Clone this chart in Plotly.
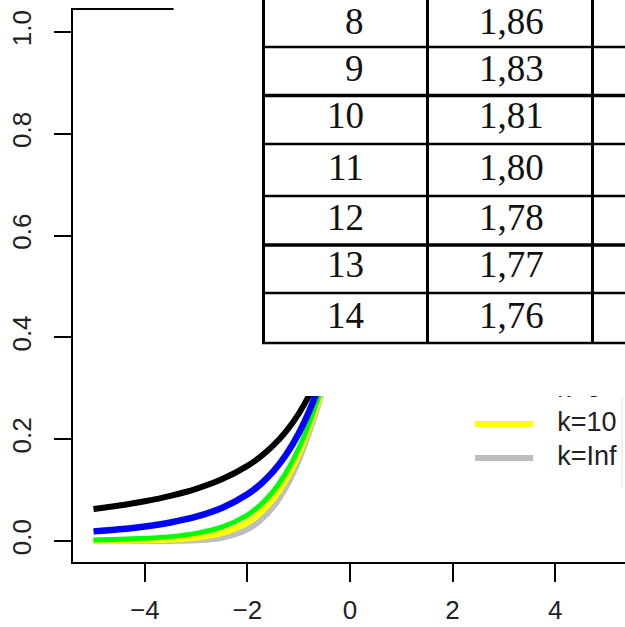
import plotly.graph_objects as go

# ---------------- data ----------------
x_vals = [-5, -4.5, -4, -3.5, -3, -2.5, -2, -1.75, -1.5, -1.25, -1, -0.75, -0.5, 0, 1, 2, 3, 4, 5]
cdf_k1 = [0.0628, 0.0696, 0.0780, 0.0886, 0.1024, 0.1211, 0.1476, 0.1652, 0.1872, 0.2148, 0.2500,
          0.2952, 0.3524, 0.5, 0.75, 0.8524, 0.8976, 0.9220, 0.9372]
cdf_k2 = [0.0189, 0.0230, 0.0286, 0.0364, 0.0477, 0.0648, 0.0918, 0.1111, 0.1362, 0.1689, 0.2113,
          0.2657, 0.3333, 0.5, 0.7887, 0.9082, 0.9523, 0.9714, 0.9811]
cdf_k5 = [0.0021, 0.0032, 0.0052, 0.0086, 0.0150, 0.0272, 0.0510, 0.0703, 0.0970, 0.1334, 0.1816,
          0.2435, 0.3191, 0.5, 0.8184, 0.9490, 0.9850, 0.9948, 0.9979]
cdf_k10 = [0.0003, 0.0006, 0.0013, 0.0029, 0.0067, 0.0157, 0.0367, 0.0554, 0.0823, 0.1199, 0.1704,
           0.2352, 0.3139, 0.5, 0.8296, 0.9633, 0.9933, 0.9987, 0.9997]
cdf_inf = [0.0000, 0.0000, 0.0000, 0.0002, 0.0013, 0.0062, 0.0228, 0.0401, 0.0668, 0.1056, 0.1587,
           0.2266, 0.3085, 0.5, 0.8413, 0.9772, 0.9987, 1.0000, 1.0000]

legend_labels = ["k=1", "k=2", "k=5", "k=10", "k=Inf"]
x_tick_vals = [-4, -2, 0, 2, 4]
y_tick_vals = [0.0, 0.2, 0.4, 0.6, 0.8, 1.0]
y_tick_text = ["0.0", "0.2", "0.4", "0.6", "0.8", "1.0"]

table_col1 = ["8", "9", "10", "11", "12", "13", "14"]
table_col2 = ["1,86", "1,83", "1,81", "1,80", "1,78", "1,77", "1,76"]

# ---------------- styling ----------------
W, H = 625, 627
ML, MR, MT, MB = 73, 0, 10, 65
PW, PH = W - ML - MR, H - MT - MB

def xp(px):
    return (px - ML) / PW

def yp(py):
    return (H - MB - py) / PH

colors = {"k=1": "black", "k=2": "#0000FF", "k=5": "#00FF00", "k=10": "#FFFF00", "k=Inf": "#BEBEBE"}
series = {"k=1": cdf_k1, "k=2": cdf_k2, "k=5": cdf_k5, "k=10": cdf_k10, "k=Inf": cdf_inf}
widths = {"k=1": 6, "k=2": 6.5, "k=5": 5, "k=10": 6, "k=Inf": 6}

fig = go.Figure()

# draw in reverse order (gray first, black last)
for lab in reversed(legend_labels):
    fig.add_trace(go.Scatter(
        x=x_vals, y=series[lab], mode="lines",
        line=dict(color=colors[lab], width=widths[lab], shape="spline"),
        showlegend=False, hoverinfo="skip"))

# manual legend (in trace layer so the pasted table overlay can hide its top part)
leg_y = [0.430, 0.363, 0.2967, 0.2299, 0.163]
for lab, yy in zip(legend_labels, leg_y):
    fig.add_trace(go.Scatter(
        x=[2.44, 3.57], y=[yy, yy], mode="lines",
        line=dict(color=colors[lab], width=6), showlegend=False, hoverinfo="skip"))
fig.add_trace(go.Scatter(
    x=[4.04] * len(legend_labels), y=leg_y, mode="text", text=legend_labels,
    textposition="middle right",
    textfont=dict(family="Liberation Sans", size=27, color="#222222"),
    showlegend=False, hoverinfo="skip"))

shapes = []
# white pasted-image overlay
shapes.append(dict(type="rect", xref="paper", yref="paper",
                   x0=xp(173.5), x1=xp(640), y0=yp(396), y1=yp(-20),
                   fillcolor="white", line=dict(width=0), layer="above"))
# faint edge of the pasted legend crop
shapes.append(dict(type="line", xref="paper", yref="paper",
                   x0=xp(622), x1=xp(622), y0=yp(397), y1=yp(487),
                   line=dict(color="#e2e2e2", width=1), layer="above"))
# table grid
row_lines = [(47, 2.5), (95.5, 3.5), (144, 2.5), (196, 2.5), (245, 3.5), (293, 2.5), (343, 2.5)]
for yy, lw in row_lines:
    shapes.append(dict(type="line", xref="paper", yref="paper",
                       x0=xp(262), x1=xp(640), y0=yp(yy), y1=yp(yy),
                       line=dict(color="black", width=lw), layer="above"))
for xx in [263.5, 427.5, 592.5]:
    shapes.append(dict(type="line", xref="paper", yref="paper",
                       x0=xp(xx), x1=xp(xx), y0=yp(-5), y1=yp(344),
                       line=dict(color="black", width=3), layer="above"))

annotations = []
row_centers = [21.5, 68, 116, 167.5, 217.5, 264, 315]
for c1, c2, yc in zip(table_col1, table_col2, row_centers):
    annotations.append(dict(xref="paper", yref="paper", x=xp(366), y=yp(yc),
                            text=c1, showarrow=False, xanchor="right", yanchor="middle",
                            font=dict(family="Liberation Serif", size=37, color="#111111")))
    annotations.append(dict(xref="paper", yref="paper", x=xp(511), y=yp(yc),
                            text=c2, showarrow=False, xanchor="center", yanchor="middle",
                            font=dict(family="Liberation Serif", size=37, color="#111111")))

y0_px, y1_px = 541.0, 32.0
upp = 1.0 / (y0_px - y1_px)
y_range = [-(H - MB - y0_px) * upp, 1.0 + (y1_px - MT) * upp]
x_upp = 1.0 / 51.3
x_range = [-(350 - ML) * x_upp, (W - 350) * x_upp]

fig.update_layout(
    width=W, height=H,
    margin=dict(l=ML, r=MR, t=MT, b=MB, pad=0, autoexpand=False),
    paper_bgcolor="white", plot_bgcolor="white",
    shapes=shapes, annotations=annotations,
    showlegend=False, hovermode=False,
    xaxis=dict(range=x_range, tickvals=x_tick_vals, ticks="outside", ticklen=18, tickwidth=2,
               tickcolor="black", showline=True, linecolor="black", linewidth=2, mirror=True,
               showgrid=False, zeroline=False, automargin=False,
               tickfont=dict(family="Liberation Sans", size=26, color="#222222"),
               ticklabelstandoff=6),
    yaxis=dict(range=y_range, tickvals=y_tick_vals, ticktext=y_tick_text, tickangle=-90,
               ticks="outside", ticklen=17, tickwidth=2, tickcolor="black",
               showline=True, linecolor="black", linewidth=2, mirror=False,
               showgrid=False, zeroline=False, automargin=False,
               tickfont=dict(family="Liberation Sans", size=26, color="#222222"),
               ticklabelstandoff=13),
)

fig.write_html("out.html", config={"displayModeBar": False},
               post_script="document.body.style.margin='0px';")
